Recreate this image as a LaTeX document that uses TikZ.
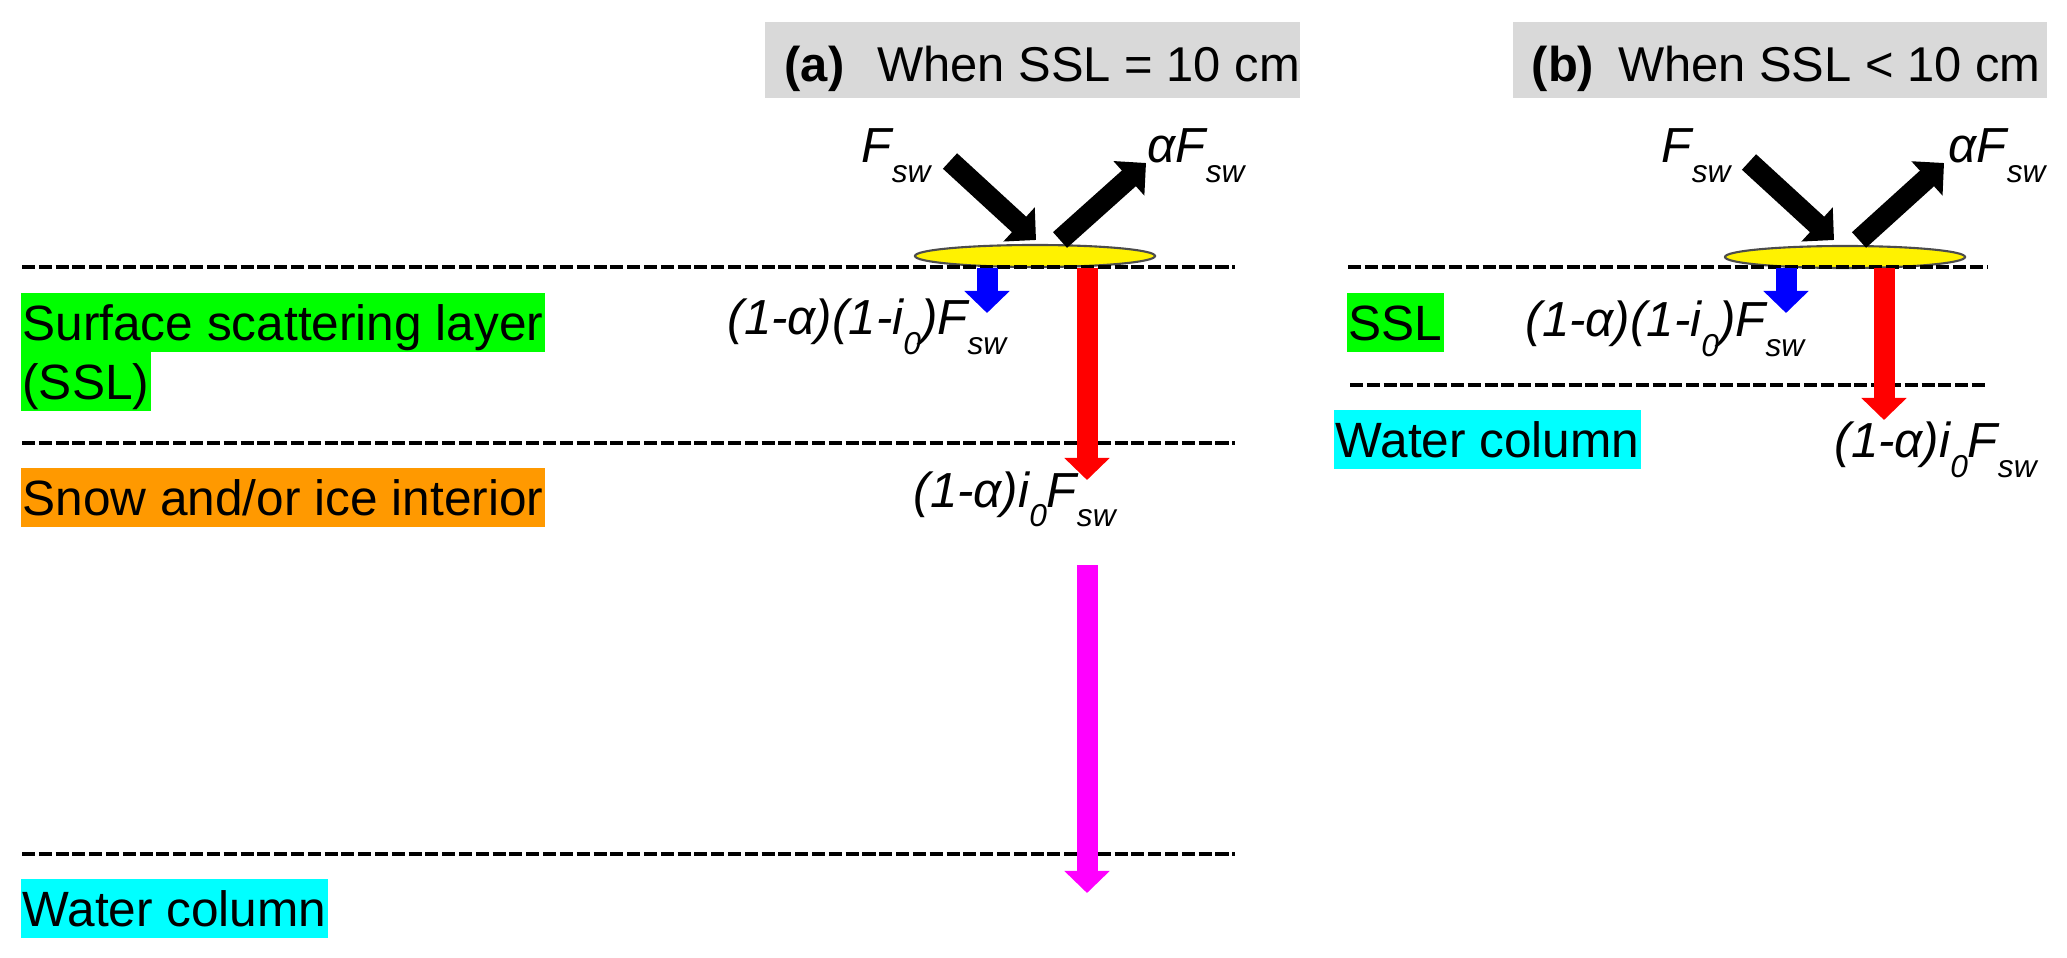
\documentclass[tikz,border=0pt]{standalone}
\usepackage{fontspec}
\setmainfont{Liberation Sans}
\usetikzlibrary{arrows.meta,shapes.geometric}
\definecolor{hdrgray}{HTML}{D9D9D9}
\definecolor{sslgreen}{HTML}{00FF00}
\definecolor{iceorange}{HTML}{FF9900}
\definecolor{watercyan}{HTML}{00FFFF}
\definecolor{fluxblue}{HTML}{0000FF}
\definecolor{fluxred}{HTML}{FF0000}
\definecolor{fluxmag}{HTML}{FF00FF}
\newcommand{\sbs}[1]{\raisebox{-0.4em}{\fontsize{9}{10}\selectfont #1}}
\newcommand{\Fsw}{F\sbs{sw}}
\begin{document}
\begin{tikzpicture}[x=0.01cm,y=-0.01cm,
  hdr/.style={fill=hdrgray, inner sep=0, anchor=north west},
  hdrtxt/.style={anchor=base west, inner sep=0, font=\fontsize{13.9}{16}\selectfont},
  layerbox/.style={anchor=north west, inner xsep=0.5pt, inner ysep=0, text height=0.48cm, text depth=0.11cm, font=\fontsize{14.1}{17}\selectfont},
  flux/.style={anchor=base west, inner sep=0, font=\fontsize{14}{17}\selectfont\itshape},
  layerline/.style={line width=0.048cm, dash pattern=on 0.13cm off 0.038cm},
  surf/.style={ellipse, draw=gray!60!black, line width=0.6pt, fill=yellow, inner sep=0, minimum width=2.4cm, minimum height=0.22cm},
  bigarrow/.style={line width=0.21cm, -{Triangle[width=0.45cm,length=0.23cm]}},
  colarrow/.style={line width=0.21cm, -{Triangle[width=0.44cm,length=0.22cm]}},
]
\useasboundingbox (0,0) rectangle (2067,958);

% ---------- panel (a) ----------
\node[hdr, minimum width=5.35cm, minimum height=0.76cm] (hdrA) at (764,21) {};
\node[hdrtxt] (hdrAtxt) at (784,82) {\textbf{(a)}\hspace{0.33cm}When SSL = 10 cm};

\node[surf] (ellA) at (1035,256) {};

\coordinate (la1s) at (22,267);  \coordinate (la1e) at (1235,267);
\coordinate (la2s) at (22,443);  \coordinate (la2e) at (1235,443);
\coordinate (la3s) at (22,854);  \coordinate (la3e) at (1235,854);
\draw[layerline] (la1s) -- (la1e);
\draw[layerline] (la2s) -- (la2e);
\draw[layerline] (la3s) -- (la3e);

\node[layerbox, fill=sslgreen] (sslA1) at (20,292) {Surface scattering layer};
\node[layerbox, fill=sslgreen] (sslA2) at (20,351) {(SSL)};
\node[layerbox, fill=iceorange] (iceA) at (20,467) {Snow and/or ice interior};
\node[layerbox, fill=watercyan] (watA) at (20,878) {Water column};

\coordinate (inA) at (950,161);  \coordinate (hitA) at (1036,240);
\coordinate (refA) at (1060,240); \coordinate (outA) at (1146,163);
\draw[bigarrow] (inA) -- (hitA);
\draw[bigarrow] (refA) -- (outA);

\coordinate (bA0) at (987,268);  \coordinate (bA1) at (987,313);
\coordinate (rA0) at (1087,268); \coordinate (rA1) at (1087,480);
\coordinate (mA0) at (1087,565); \coordinate (mA1) at (1087,893);
\draw[colarrow, fluxblue] (bA0) -- (bA1);
\draw[colarrow, fluxred] (rA0) -- (rA1);
\draw[colarrow, fluxmag] (mA0) -- (mA1);

\node[flux] (fswA) at (861,163) {\Fsw};
\node[flux] (afswA) at (1147,163) {α\Fsw};
\node[flux] (absA) at (727,335) {(1-α)(1-i\sbs{0})\Fsw};
\node[flux] (transA) at (913,507) {(1-α)i\sbs{0}\Fsw};

% ---------- panel (b) ----------
\node[hdr, minimum width=5.34cm, minimum height=0.76cm] (hdrB) at (1512,21) {};
\node[hdrtxt] (hdrBtxt) at (1531,82) {\textbf{(b)}\hspace{0.24cm}When SSL < 10 cm};

\node[surf] (ellB) at (1845,257) {};

\coordinate (lb1s) at (1348,267); \coordinate (lb1e) at (1987,267);
\coordinate (lb2s) at (1350,385); \coordinate (lb2e) at (1987,385);
\draw[layerline] (lb1s) -- (lb1e);
\draw[layerline] (lb2s) -- (lb2e);

\node[layerbox, fill=sslgreen] (sslB) at (1346,292) {SSL};
\node[layerbox, fill=watercyan] (watB) at (1333,409) {Water column};

\coordinate (inB) at (1749,162);  \coordinate (hitB) at (1834,240);
\coordinate (refB) at (1859,240); \coordinate (outB) at (1944,163);
\draw[bigarrow] (inB) -- (hitB);
\draw[bigarrow] (refB) -- (outB);

\coordinate (bB0) at (1786,268); \coordinate (bB1) at (1786,313);
\coordinate (rB0) at (1884,268); \coordinate (rB1) at (1884,420);
\draw[colarrow, fluxblue] (bB0) -- (bB1);
\draw[colarrow, fluxred] (rB0) -- (rB1);

\node[flux] (fswB) at (1661,163) {\Fsw};
\node[flux] (afswB) at (1948,163) {α\Fsw};
\node[flux] (absB) at (1525,337) {(1-α)(1-i\sbs{0})\Fsw};
\node[flux] (transB) at (1834,458) {(1-α)i\sbs{0}\Fsw};
\end{tikzpicture}
\end{document}
